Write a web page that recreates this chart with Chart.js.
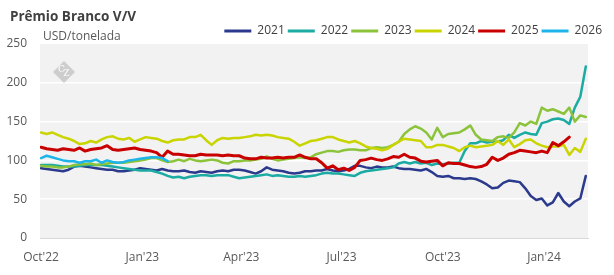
<!DOCTYPE html>
<html><head><meta charset="utf-8">
<script src="https://cdn.jsdelivr.net/npm/chart.js@4.4.0/dist/chart.umd.min.js"></script>
<style>html,body{margin:0;padding:0;background:#fff;overflow:hidden}</style>
</head><body>
<canvas id="c" width="614" height="275"></canvas>
<script>
const chartTitle = 'Prêmio Branco V/V';
const unitLabel = 'USD/tonelada';
const tickDays = [0, 92, 182, 273, 365, 457];
const tickLabels = ["Oct'22", "Jan'23", "Apr'23", "Jul'23", "Oct'23", "Jan'24"];
const seriesNames = ['2021', '2022', '2023', '2024', '2025', '2026'];
const seriesColors = ['#2B3A8C', '#1BABA2', '#8BC33A', '#C9D400', '#C80000', '#1DB4E9'];
// days since 1 Oct 2022, one reading every 5 days
const days = Array.from({length: 100}, (_, i) => i * 5);

const s2021 = [90,89,88,87,86,88,92,93,92,91, 90,89,88,88,86,86,87,88,90,89,
  88,87,89,87,86,86,87,85,84,86, 85,84,86,87,86,88,88,87,85,83,
  86,91,88,87,86,84,83,84,86,86, 87,87,89,87,86,87,89,93,93,91,
  90,92,91,91,92,90,89,89,88,87, 89,85,80,79,80,77,77,76,77,76,
  73,69,64,65,71,74,73,72,64,54, 49,51,42,46,58,47,41,47,51,80];
const s2022 = [94,94,94,93,92,92,92,93,94,94, 94,94,93,92,91,90,89,88,87,87,
  87,85,83,80,78,79,77,79,80,81, 81,80,81,81,81,79,77,78,79,80,
  81,82,80,81,80,79,79,80,79,80, 81,83,84,83,83,82,81,80,84,86,
  87,88,89,90,91,96,98,96,98,96, 97,94,96,95,96,97,97,112,122,122,
  125,123,124,124,126,133,129,133,136,134, 133,148,150,153,154,152,147,168,182,221];
const s2023 = [93,92,92,91,91,92,94,95,95,96, 94,95,96,97,97,97,98,99,100,101,
  103,103,100,98,99,101,99,102,100,99, 100,101,100,97,96,99,99,100,100,101,
  102,105,102,100,101,102,103,104,103,104, 108,110,112,112,111,113,114,114,113,113,
  116,117,116,117,120,124,134,140,144,141, 136,127,142,130,134,135,136,140,145,133,
  127,126,125,130,131,129,136,148,145,150, 147,168,164,166,163,160,168,150,158,156];
const s2024 = [136,134,136,133,130,128,125,121,122,125, 123,127,130,131,128,127,129,124,127,130,
  129,128,125,123,126,127,127,130,130,133, 126,120,126,129,128,129,129,130,131,133,
  132,133,132,130,129,128,124,119,122,125, 126,128,130,130,127,125,123,125,122,118,
  116,115,113,115,120,124,128,127,126,125, 117,117,120,120,118,116,112,117,119,117,
  118,119,120,125,120,127,117,121,126,127, 122,119,117,118,118,120,107,116,111,128];
const s2025 = [117,115,114,113,115,114,113,116,112,114, 115,116,119,114,113,114,115,116,114,113,
  112,110,104,112,108,108,107,106,106,108, 107,107,107,106,107,106,106,103,102,102,
  104,103,103,104,103,104,104,107,104,102, 102,97,90,93,88,90,87,91,100,101,
  103,101,100,102,105,104,108,104,103,99, 98,99,100,93,97,96,96,94,92,91,
  92,95,104,100,103,108,110,113,112,111, 110,112,110,123,119,124,130,null,null,null];
const s2026 = [103,106,104,102,100,99,99,97,99,99, 101,97,100,98,97,98,100,101,102,103,
  104,104,103,99];

const seriesValues = [s2021, s2022, s2023, s2024, s2025, s2026];

const decor = {
  id: 'decor',
  beforeDraw(chart) {
    const {ctx, chartArea: a} = chart;
    ctx.save();
    ctx.fillStyle = '#F2F2F2';
    ctx.fillRect(a.left, a.top, a.right - a.left, a.bottom - a.top);
    ctx.restore();
  },
  beforeDatasetsDraw(chart) {
    const {ctx, chartArea: a} = chart;
    const cx = a.left + 24, cy = a.top + 28, r = 11;
    ctx.save();
    ctx.fillStyle = '#CDCDCD';
    ctx.beginPath();
    ctx.moveTo(cx, cy - r); ctx.lineTo(cx + r, cy); ctx.lineTo(cx, cy + r); ctx.lineTo(cx - r, cy);
    ctx.closePath(); ctx.fill();
    ctx.fillStyle = '#FFFFFF';
    ctx.font = '9px "DejaVu Serif", serif';
    ctx.textAlign = 'center'; ctx.textBaseline = 'middle';
    ctx.fillText('C', cx - 2.5, cy - 2);
    ctx.fillText('Z', cx + 2.5, cy + 2);
    ctx.restore();
  },
  afterDraw(chart) {
    const {ctx} = chart;
    ctx.save();
    ctx.textBaseline = 'middle';
    ctx.fillStyle = '#404040';
    ctx.font = 'bold 13.5px "Open Sans"';
    ctx.fillText(chartTitle, 10, 17);
    ctx.fillStyle = '#595959';
    ctx.font = '12px "Open Sans"';
    ctx.fillText(unitLabel, 43, 37);
    ctx.restore();
  }
};

const font = {family: '"Open Sans"', size: 12};

new Chart(document.getElementById('c'), {
  type: 'line',
  data: {
    datasets: seriesNames.map((name, i) => ({
      label: name,
      data: days.map((d, j) => ({x: d, y: seriesValues[i][j] === undefined ? null : seriesValues[i][j]})),
      borderColor: seriesColors[i],
      backgroundColor: seriesColors[i],
      borderWidth: i === 4 ? 3 : 2.5,
      pointRadius: 0,
      tension: 0,
      borderJoinStyle: 'round',
      borderCapStyle: 'round',
      spanGaps: false,
      order: 6 - i
    }))
  },
  options: {
    responsive: false,
    animation: false,
    devicePixelRatio: 1,
    events: [],
    layout: {padding: {top: 22, right: 9, left: 0, bottom: 0}},
    scales: {
      x: {
        type: 'linear', min: -1, max: 497,
        afterBuildTicks: s => { s.ticks = tickDays.map(v => ({value: v})); },
        ticks: {callback: (v, idx) => tickLabels[idx], autoSkip: false, maxRotation: 0, padding: 12, color: '#595959', font},
        grid: {display: false, drawTicks: false},
        border: {display: true, color: '#D9D9D9', width: 1},
        afterFit: s => { s.height = 37; }
      },
      y: {
        min: 0, max: 250,
        ticks: {stepSize: 50, padding: 13, color: '#595959', font},
        grid: {drawTicks: false, lineWidth: 1.5, color: c => (c.tick && c.tick.value > 0 && c.tick.value < 250) ? '#FFFFFF' : 'rgba(0,0,0,0)'},
        border: {display: false},
        afterFit: s => { s.width = 40; }
      },
      yR: {
        position: 'right', display: true,
        grid: {display: false, drawTicks: false},
        ticks: {display: false},
        border: {display: false},
        afterFit: s => { s.width = 17; }
      }
    },
    plugins: {
      title: {display: false},
      tooltip: {enabled: false},
      legend: {
        position: 'top', align: 'end', maxHeight: 22,
        labels: {
          boxWidth: 27, boxHeight: 3, padding: 3, color: '#404040', font,
          sort: (a, b) => a.datasetIndex - b.datasetIndex,
          generateLabels: chart => Chart.defaults.plugins.legend.labels.generateLabels(chart)
            .map(l => Object.assign({}, l, {fillStyle: l.strokeStyle, lineWidth: 0}))
        }
      }
    }
  },
  plugins: [decor]
});
</script>
</body></html>
